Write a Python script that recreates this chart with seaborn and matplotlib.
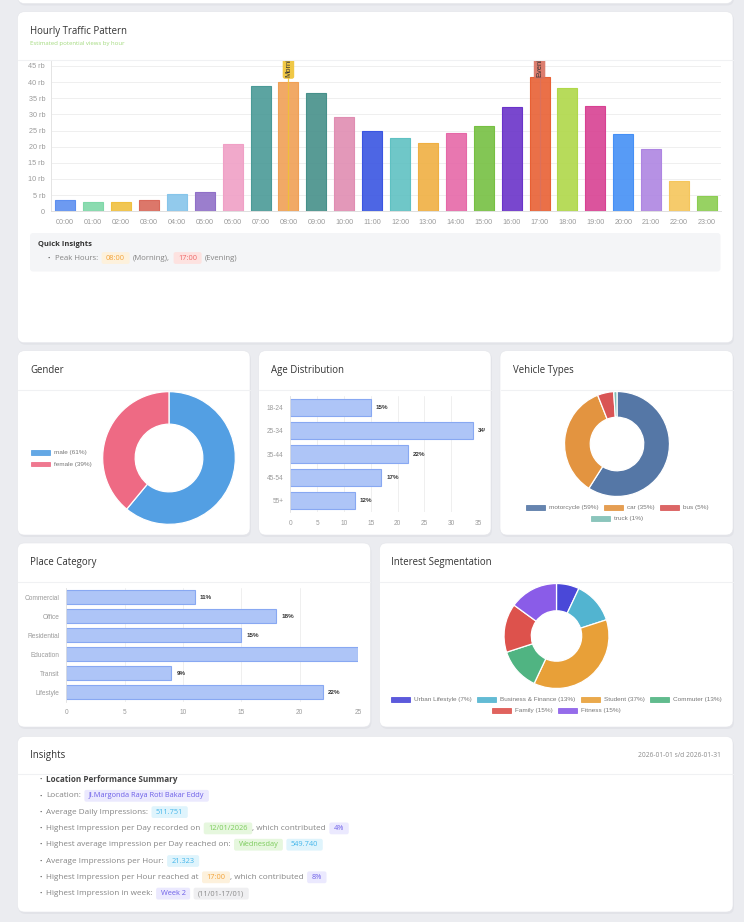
import numpy as np
import pandas as pd
import matplotlib
matplotlib.use('Agg')
import matplotlib.pyplot as plt
import matplotlib.patches as mpatches
import matplotlib.transforms as mtransforms
import seaborn as sns

# ========== 데이터 ==========
hours = ['00:00', '01:00', '02:00', '03:00', '04:00', '05:00', '06:00', '07:00',
         '08:00', '09:00', '10:00', '11:00', '12:00', '13:00', '14:00', '15:00',
         '16:00', '17:00', '18:00', '19:00', '20:00', '21:00', '22:00', '23:00']
views_rb = [3.4, 2.9, 2.9, 3.5, 5.4, 5.9, 20.7, 38.9, 39.9, 36.7, 29.3, 25.0,
            22.6, 21.1, 24.2, 26.4, 32.4, 41.5, 38.0, 32.7, 23.8, 19.4, 9.4, 4.8]
hour_colors = ['#5d8ff0', '#7fd8a8', '#f0c040', '#d9685a', '#86c5ea', '#9070c8',
               '#f0a0c6', '#4a9a97', '#f0a055', '#46908a', '#e08db2', '#3a55e2',
               '#5fc1c2', '#f0b042', '#e668a8', '#76c042', '#6a33c9', '#e86034',
               '#b0d849', '#d84192', '#4590f6', '#ae85e2', '#f5c65b', '#8ccd52']
y_ticks = [0, 5, 10, 15, 20, 25, 30, 35, 40, 45]
y_tick_labels = ['0', '5 rb', '10 rb', '15 rb', '20 rb', '25 rb', '30 rb', '35 rb', '40 rb', '45 rb']
peak_hours = ['08:00', '17:00']
peak_names = ['Morning', 'Evening']
peak_colors = ['#efc232', '#d9705f']

gender_labels = ['male', 'female']
gender_pct = [61, 39]
gender_colors = ['#539fe3', '#ee6a84']

age_labels = ['18-24', '25-34', '35-44', '45-54', '55+']
age_pct = [15, 34, 22, 17, 12]

vehicle_labels = ['motorcycle', 'car', 'bus', 'truck']
vehicle_pct = [59, 35, 5, 1]
vehicle_colors = ['#5577a6', '#e39440', '#d95555', '#7fbfb5']

place_labels = ['Commercial', 'Office', 'Residential', 'Education', 'Transit', 'Lifestyle']
place_pct = [11, 18, 15, 25, 9, 22]

interest_labels = ['Urban Lifestyle', 'Business & Finance', 'Student', 'Commuter', 'Family', 'Fitness']
interest_pct = [7, 13, 37, 13, 15, 15]
interest_colors = ['#4a48d8', '#52b4d0', '#e8a038', '#50b482', '#dd524c', '#8a5ce8']

date_range = '2026-01-01 s/d 2026-01-31'
insight_lines = [
    [('Location Performance Summary', 'bold')],
    [('Location:', None), ('Jl.Margonda Raya Roti Bakar Eddy', 'purple')],
    [('Average Daily Impressions:', None), ('511.751', 'cyan')],
    [('Highest Impression per Day recorded on', None), ('12/01/2026', 'green'),
     (', which contributed', None), ('4%', 'purple')],
    [('Highest average impression per Day reached on:', None), ('Wednesday', 'green'),
     ('549.740', 'cyan')],
    [('Average Impressions per Hour:', None), ('21.323', 'cyan')],
    [('Highest Impression per Hour reached at', None), ('17:00', 'orange'),
     (', which contributed', None), ('8%', 'purple')],
    [('Highest Impression in week:', None), ('Week 2', 'purple'), ('(11/01-17/01)', 'gray')],
]
badge_styles = {
    'purple': ('#ebe9fe', '#6d5fe8'),
    'cyan': ('#dff4fc', '#45b6ea'),
    'green': ('#e6f7de', '#7ccc5c'),
    'orange': ('#fdf1dc', '#f3a33a'),
    'red': ('#fde2e0', '#ee6a6a'),
    'gray': ('#efeff1', '#8a8a8a'),
}

# ========== 스타일 ==========
sns.set_style('white')
plt.rcParams['font.family'] = ['Open Sans', 'DejaVu Sans']
TICK_FONT = ['Liberation Sans', 'DejaVu Sans']

W, H = 744, 922
fig = plt.figure(figsize=(W / 100, H / 100), dpi=100)
fig.patch.set_facecolor('#ebecf0')

bg = fig.add_axes([0, 0, 1, 1])
bg.set_xlim(0, W)
bg.set_ylim(H, 0)
bg.axis('off')
renderer = fig.canvas.get_renderer()


def px_axes(x0, y0, x1, y1):
    return fig.add_axes([x0 / W, 1 - y1 / H, (x1 - x0) / W, (y1 - y0) / H])


def card(x0, y0, x1, y1, header=None):
    shadow = mpatches.FancyBboxPatch((x0 + 1, y0 + 2), x1 - x0, y1 - y0,
                                     boxstyle='round,pad=0,rounding_size=7',
                                     fc='#dcdee4', ec='none', alpha=0.6)
    bg.add_patch(shadow)
    box = mpatches.FancyBboxPatch((x0, y0), x1 - x0, y1 - y0,
                                  boxstyle='round,pad=0,rounding_size=7',
                                  fc='white', ec='#e4e5ea', lw=0.4)
    bg.add_patch(box)
    if header is not None:
        bg.plot([x0 + 0.5, x1 - 0.5], [header, header], color='#f0f1f3', lw=0.8)


def text_width(t):
    return t.get_window_extent(renderer=renderer).width


def badge(x, y, s, kind, fs):
    face, fg = badge_styles[kind]
    t = bg.text(x + 4.5, y, s, fontsize=fs, color=fg, va='center', ha='left', zorder=3)
    w = text_width(t)
    bg.add_patch(mpatches.FancyBboxPatch((x, y - 5.9), w + 9, 11.8,
                                         boxstyle='round,pad=0,rounding_size=2',
                                         fc=face, ec='none', zorder=2))
    return x + w + 9


def segments(x, y, segs, fs, badge_fs, gap=3.5):
    after_badge = False
    for s, kind in segs:
        if kind in (None, 'bold'):
            if after_badge and not s.startswith(','):
                x += gap
            t = bg.text(x, y, s, fontsize=fs, color='#444444' if kind == 'bold' else '#858585',
                        fontweight='bold' if kind == 'bold' else 'normal',
                        va='center', ha='left')
            x += text_width(t)
            after_badge = False
        else:
            x = badge(x + gap, y, s, kind, badge_fs)
            after_badge = True


def legend_row(cx, y, labels, colors, fs=4.6):
    items = []
    for lab, col in zip(labels, colors):
        t = bg.text(0, y, lab, fontsize=fs, color='#777777', va='center', ha='left',
                    family=TICK_FONT)
        items.append((t, col, text_width(t)))
    total = sum(19 + 4 + w for _, _, w in items) + 5.5 * (len(items) - 1)
    x = cx - total / 2
    for t, col, w in items:
        bg.add_patch(mpatches.Rectangle((x, y - 2.5), 19, 5, fc=col, ec=col, lw=0.6, alpha=0.9))
        t.set_x(x + 23)
        x += 19 + 4 + w + 5.5


# ========== 카드 ==========
card(17.5, -12, 733, 3.5)
card(17.5, 11.7, 733, 342.7, header=60)
card(17.5, 350.7, 250, 535, header=390)
card(258.7, 350.7, 491, 535, header=390)
card(500, 350.7, 733, 535, header=390)
card(17.5, 543, 370.5, 727, header=582)
card(379.5, 543, 733, 727, header=582)
card(17.5, 736.5, 733, 912, header=774)

TITLE_FS = 6.9
TITLE_COLOR = '#333333'
bg.text(30, 31.5, 'Hourly Traffic Pattern', fontsize=TITLE_FS, color=TITLE_COLOR, va='center')
bg.text(30, 43.5, 'Estimated potential views by hour', fontsize=4.3, color='#a3da7e', va='center')
bg.text(30, 370, 'Gender', fontsize=TITLE_FS, color=TITLE_COLOR, va='center')
bg.text(271, 370, 'Age Distribution', fontsize=TITLE_FS, color=TITLE_COLOR, va='center')
bg.text(513, 370, 'Vehicle Types', fontsize=TITLE_FS, color=TITLE_COLOR, va='center')
bg.text(30, 562, 'Place Category', fontsize=TITLE_FS, color=TITLE_COLOR, va='center')
bg.text(391, 562, 'Interest Segmentation', fontsize=TITLE_FS, color=TITLE_COLOR, va='center')
bg.text(30, 755, 'Insights', fontsize=TITLE_FS, color=TITLE_COLOR, va='center')
bg.text(720.5, 755, date_range, fontsize=4.8, color='#8a8a8a', va='center', ha='right')

# ========== 1. Hourly Traffic Pattern ==========
ax = px_axes(51.3, 60.7, 720.9, 211.3)
df_hour = pd.DataFrame({'hour': hours, 'views': views_rb})
sns.barplot(data=df_hour, x='hour', y='views', hue='hour', palette=hour_colors,
            legend=False, width=0.72, saturation=1, ax=ax)
for p, col in zip(ax.patches, hour_colors):
    p.set_facecolor(matplotlib.colors.to_rgba(col, 0.9))
    p.set_edgecolor(col)
    p.set_linewidth(0.8)
ax.set_xlim(-0.5, len(hours) - 0.5)
ax.set_ylim(0, 46.6)
ax.set_yticks(y_ticks)
ax.set_yticklabels(y_tick_labels)
ax.set_xlabel('')
ax.set_ylabel('')
for yv in y_ticks[1:]:
    ax.axhline(yv, color='#efefef', lw=0.7, zorder=0)
ax.tick_params(axis='both', length=0, labelsize=5.2, labelcolor='#9a9a9a')
ax.tick_params(axis='y', pad=4.5)
ax.tick_params(axis='x', pad=5.5)
for lab in ax.get_xticklabels() + ax.get_yticklabels():
    lab.set_family(TICK_FONT)
for side in ['top', 'right']:
    ax.spines[side].set_visible(False)
ax.spines['left'].set_color('#e4e4e4')
ax.spines['bottom'].set_color('#dedede')
ax.spines['left'].set_linewidth(0.7)
ax.spines['bottom'].set_linewidth(0.7)
ax.set_facecolor('none')
for hr, name, col in zip(peak_hours, peak_names, peak_colors):
    xi = hours.index(hr)
    ax.axvline(xi, color=col, lw=0.9, alpha=0.85, zorder=4)
    ax.text(xi, 41.7, name, rotation=90, ha='center', va='bottom', fontsize=5.4,
            color='#333333', family=TICK_FONT, clip_on=True, zorder=5,
            bbox=dict(boxstyle='round,pad=0.3,rounding_size=0.3', fc=col, ec='none', alpha=0.9))

# Quick Insights
bg.add_patch(mpatches.FancyBboxPatch((30, 233), 690.5, 38.5,
                                     boxstyle='round,pad=0,rounding_size=3',
                                     fc='#f4f5f7', ec='none'))
bg.text(38, 244, 'Quick Insights', fontsize=5.4, fontweight='bold', color='#333333', va='center')
bg.text(47.5, 258, '•', fontsize=4.5, color='#555555', va='center')
segments(55, 258, [('Peak Hours:', None), (peak_hours[0], 'orange'),
                   ('(' + peak_names[0] + '),', None), (peak_hours[1], 'red'),
                   ('(' + peak_names[1] + ')', None)], 5.6, 5.4)

# ========== 2. Gender ==========


def donut(cx, cy, r, vals, colors, width):
    dax = px_axes(cx - r, cy - r, cx + r, cy + r)
    dax.pie(vals, colors=colors, startangle=90, counterclock=False, radius=1,
            wedgeprops=dict(width=width, edgecolor='white', linewidth=0.9))
    dax.set_xlim(-1.01, 1.01)
    dax.set_ylim(-1.01, 1.01)
    dax.set_aspect('equal')
    dax.axis('off')


donut(169, 458, 67, gender_pct, gender_colors, 0.49)
for i, (lab, v, col) in enumerate(zip(gender_labels, gender_pct, gender_colors)):
    yy = 452.5 + i * 11.5
    bg.add_patch(mpatches.Rectangle((31, yy - 2.3), 19, 4.6, fc=col, ec=col, lw=0.6, alpha=0.9))
    bg.text(54, yy, f'{lab} ({v}%)', fontsize=4.6, color='#777777', va='center',
            family=TICK_FONT)


# ========== 3. Horizontal bars ==========
def hbar(x0, y0, x1, y1, labels, vals, xmax, clip_right):
    hax = px_axes(x0, y0, x1, y1)
    sns.barplot(x=vals, y=labels, orient='h', color='#aec5f7', width=0.74, saturation=1,
                edgecolor='#88a8f2', linewidth=0.8, ax=hax)
    hax.set_xlim(0, xmax)
    hax.set_xticks(range(0, xmax + 1, 5))
    hax.grid(axis='x', color='#ececec', lw=0.6)
    hax.set_axisbelow(True)
    for side in ['top', 'right', 'bottom']:
        hax.spines[side].set_visible(False)
    hax.spines['left'].set_color('#e2e2e2')
    hax.spines['left'].set_linewidth(0.6)
    hax.tick_params(axis='both', length=0, labelsize=4.7, labelcolor='#9a9a9a')
    hax.tick_params(axis='y', pad=5)
    hax.tick_params(axis='x', pad=5.5)
    for lab in hax.get_xticklabels() + hax.get_yticklabels():
        lab.set_family(TICK_FONT)
    hax.set_xlabel('')
    hax.set_ylabel('')
    hax.set_facecolor('none')
    clip = mpatches.Rectangle((x0 - 40, y0 - 10), clip_right - x0 + 40, y1 - y0 + 20,
                              transform=bg.transData)
    off = mtransforms.offset_copy(hax.transData, fig=fig, x=5, y=0, units='dots')
    for i, v in enumerate(vals):
        t = hax.text(v, i, f'{v}%', transform=off, fontsize=4.5, fontweight='bold',
                     color='#333333', va='center', ha='left', family=TICK_FONT, clip_on=True)
        t.set_clip_path(clip)


hbar(290.3, 396, 478, 512, age_labels, age_pct, 35, 484.5)
hbar(66.3, 587.7, 358, 701.7, place_labels, place_pct, 25, 363.3)

# ========== 4. Vehicle Types ==========
donut(617, 444, 53, vehicle_pct, vehicle_colors, 0.49)
vlabels = [f'{l} ({v}%)' for l, v in zip(vehicle_labels, vehicle_pct)]
legend_row(617, 507, vlabels[:3], vehicle_colors[:3])
legend_row(617, 518.5, vlabels[3:], vehicle_colors[3:])

# ========== 5. Interest Segmentation ==========
donut(556.5, 636, 53, interest_pct, interest_colors, 0.52)
ilabels = [f'{l} ({v}%)' for l, v in zip(interest_labels, interest_pct)]
legend_row(556.5, 699, ilabels[:4], interest_colors[:4])
legend_row(556.5, 710, ilabels[4:], interest_colors[4:])

# ========== 6. Insights ==========
for i, segs in enumerate(insight_lines):
    yy = 779.5 + i * 16.3
    bg.text(39, yy, '•', fontsize=4.5, color='#555555', va='center')
    segments(46, yy, segs, 5.9, 5.3)

plt.savefig('out.png', dpi=100, facecolor=fig.get_facecolor())
print('saved out.png')
